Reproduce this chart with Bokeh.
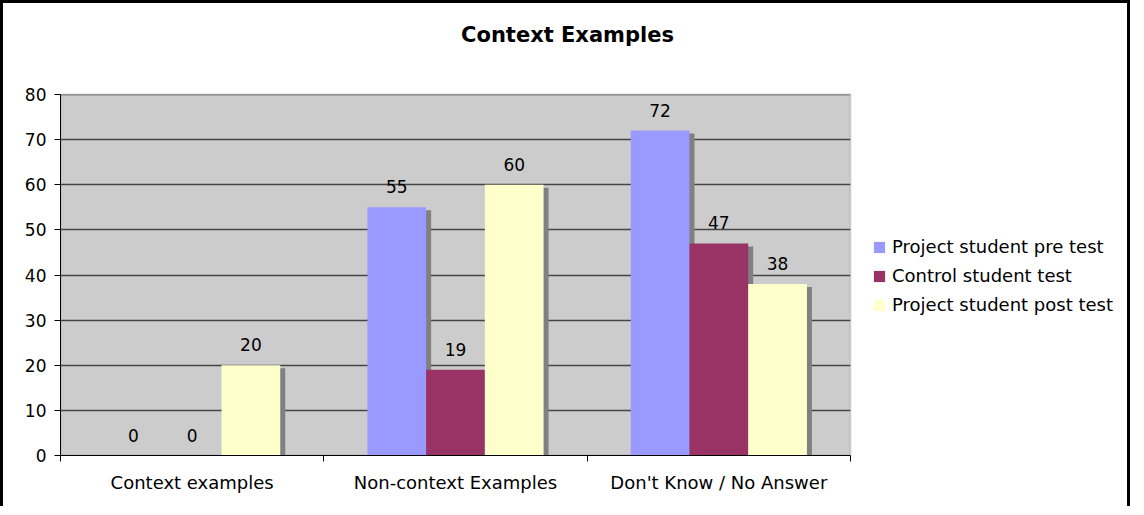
from bokeh.plotting import figure
from bokeh.models import (Range1d, FixedTicker, Legend, LegendItem, ColumnDataSource,
                          BoxAnnotation, Label)
from bokeh.embed import file_html
from bokeh.resources import INLINE

categories = ["Context examples", "Non-context Examples", "Don't Know / No Answer"]
series_names = ["Project student pre test", "Control student test", "Project student post test"]
pre_test = [0, 55, 72]
control_test = [0, 19, 47]
post_test = [20, 60, 38]
colors = ["#9999FF", "#993366", "#FFFFCC"]
y_ticks = [0, 10, 20, 30, 40, 50, 60, 70, 80]
title_text = "Context Examples"

FONT = "DejaVu Sans"
W, H = 1130, 506
LEFT, BOTTOM = 57, 54
PLOT_W, PLOT_H = 790.0, 361.0          # size of the grey plot area in px
frame_w = W - LEFT
frame_h = H - BOTTOM
n_cat = len(categories)
y_max = 80
x_end = n_cat * frame_w / PLOT_W
y_end = y_max * frame_h / PLOT_H

p = figure(width=W, height=H, output_backend="svg", toolbar_location=None,
           x_range=Range1d(0, x_end), y_range=Range1d(0, y_end),
           min_border_left=LEFT, min_border_right=0, min_border_top=0, min_border_bottom=BOTTOM,
           background_fill_color="white", border_fill_color="white")
p.styles = {"border-left": "3px solid black", "border-top": "3px solid black",
            "border-right": "3px solid black"}
p.outline_line_color = None

# grey plot area
p.add_layout(BoxAnnotation(left=0, right=n_cat, bottom=0, top=y_max, fill_color="#CCCCCC",
                           fill_alpha=1, line_color=None, level="image"))
# mask grid outside plot area
p.add_layout(BoxAnnotation(left=n_cat, fill_color="white", fill_alpha=1, line_color=None, level="underlay"))
p.add_layout(BoxAnnotation(bottom=y_max, fill_color="white", fill_alpha=1, line_color=None, level="underlay"))
p.add_layout(BoxAnnotation(left=0, right=n_cat, bottom=0, top=y_max, fill_alpha=0,
                           line_color="#808080", line_width=2, level="underlay"))

bar_w = 0.223
shadow_dx = 5 * n_cat / PLOT_W
shadow_dy = 3 * y_max / PLOT_H

all_series = [pre_test, control_test, post_test]
renderers = []
for i, (vals, col) in enumerate(zip(all_series, colors)):
    xs = [k + 0.5 + (i - 1) * bar_w for k in range(n_cat)]
    sx = [x + shadow_dx for x, v in zip(xs, vals) if v > 0]
    st = [v - shadow_dy for v in vals if v > 0]
    p.vbar(x=sx, top=st, bottom=0, width=bar_w, fill_color="#808080", line_color=None)
for i, (vals, col) in enumerate(zip(all_series, colors)):
    xs = [k + 0.5 + (i - 1) * bar_w for k in range(n_cat)]
    src = ColumnDataSource(dict(x=xs, top=vals, lab=[str(v) for v in vals]))
    r = p.vbar(x="x", top="top", bottom=0, width=bar_w, source=src, fill_color=col, line_color=None)
    renderers.append(r)
    p.text(x="x", y="top", text="lab", source=src, text_align="center", text_baseline="bottom",
           y_offset=-14, text_font_size="17px", text_font={"value": FONT}, text_color="black")

p.xgrid.visible = False
p.ygrid.ticker = FixedTicker(ticks=y_ticks)
p.ygrid.grid_line_color = "#444444"
p.ygrid.grid_line_width = 1.3

# y axis
p.yaxis.ticker = FixedTicker(ticks=y_ticks)
p.yaxis.bounds = (0, y_max)
p.yaxis.axis_line_color = "black"
p.yaxis.major_tick_line_color = "black"
p.yaxis.major_tick_out = 6
p.yaxis.major_tick_in = 0
p.yaxis.minor_tick_line_color = None
p.yaxis.major_label_text_font = FONT
p.yaxis.major_label_text_font_size = "17px"
p.yaxis.major_label_text_color = "black"
p.yaxis.major_label_standoff = 8

# x axis: labels at category centres, ticks at boundaries
p.xaxis.ticker = FixedTicker(ticks=[k + 0.5 for k in range(n_cat)], minor_ticks=list(range(n_cat + 1)))
p.xaxis.major_label_overrides = {k + 0.5: c for k, c in enumerate(categories)}
p.xaxis.bounds = (0, n_cat)
p.xaxis.major_tick_line_color = None
p.xaxis.minor_tick_line_color = "black"
p.xaxis.minor_tick_out = 6
p.xaxis.minor_tick_in = 0
p.xaxis.axis_line_color = "black"
p.xaxis.major_label_text_font = FONT
p.xaxis.major_label_text_font_size = "18px"
p.xaxis.major_label_text_color = "black"
p.xaxis.major_label_standoff = 10

# title, centred on the chart
title_cx_px = 564 - LEFT
title_cy_px = frame_h - 31
p.add_layout(Label(x=title_cx_px * n_cat / PLOT_W, y=title_cy_px * y_max / PLOT_H,
                   text=title_text, text_align="center", text_baseline="middle",
                   text_font=FONT, text_font_size="21px", text_font_style="bold",
                   text_color="black"))

legend = Legend(items=[LegendItem(label=n, renderers=[r]) for n, r in zip(series_names, renderers)],
                location=(812, 140), padding=0, margin=0, border_line_color=None,
                background_fill_alpha=0, glyph_width=14, glyph_height=14, label_height=20,
                spacing=8, label_standoff=6, label_text_font=FONT, label_text_font_size="18px",
                label_text_color="black")
p.add_layout(legend)

open("out.html", "w").write(file_html(p, INLINE))
